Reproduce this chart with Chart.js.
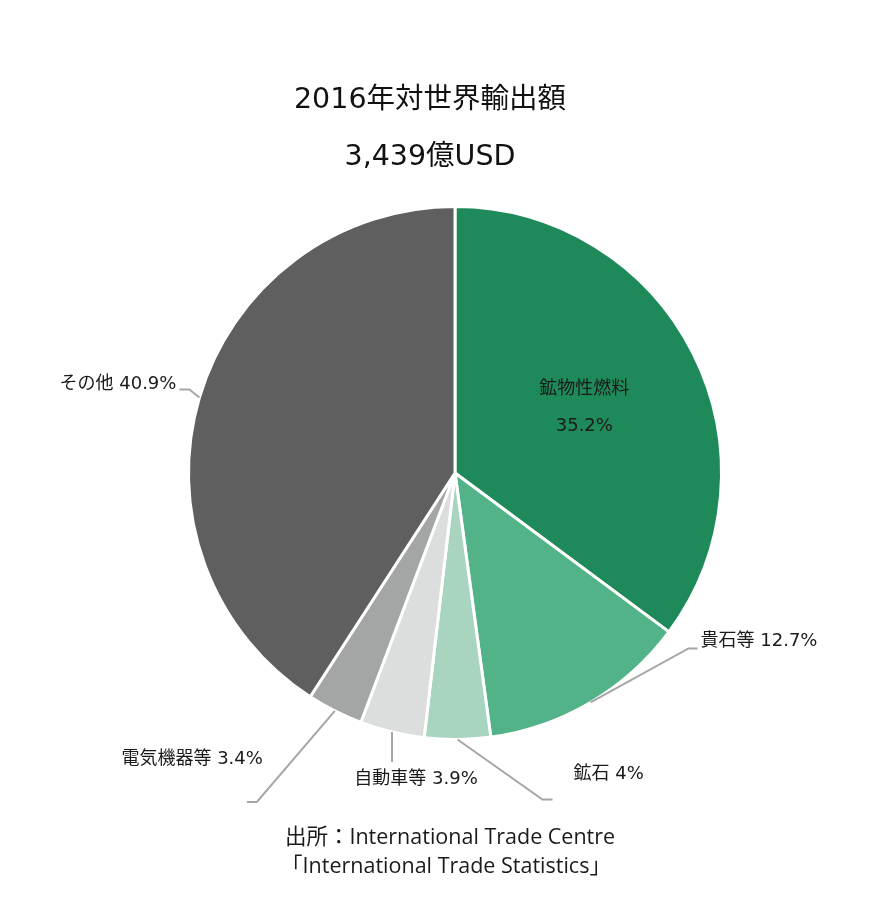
<!DOCTYPE html>
<html>
<head>
<meta charset="utf-8">
<script src="https://cdn.jsdelivr.net/npm/chart.js@4/dist/chart.umd.min.js"></script>
<style>
html,body{margin:0;padding:0;background:#fff;}
#wrap{width:894px;height:901px;position:relative;}
</style>
</head>
<body>
<div id="wrap"><canvas id="c" width="894" height="901"></canvas></div>
<script>
// ---- data ----
const categories = ['鉱物性燃料', '貴石等', '鉱石', '自動車等', '電気機器等', 'その他'];
const shares = [35.2, 12.7, 4, 3.9, 3.4, 40.9];
const sliceColors = ['#1f8a59', '#52b288', '#a9d4bf', '#dcdedd', '#a3a6a5', '#5f5f5f'];
const titleLines = ['2016年対世界輸出額', '3,439億USD'];
const sourceLines = ['出所：International Trade Centre', '「International Trade Statistics」'];

// ---- label layout (offsets from slice anchor on the rim, px) ----
const labelLayout = [
  { inside: true },
  { elbow: [98, -54], tail: 9, text: [110, -61], align: 'left' },
  { elbow: [85, 60], tail: 10, text: [116, 35], align: 'left' },
  { elbow: [0, 30], tail: 0, text: [24, 47], align: 'center' },
  { elbow: [-78, 91], tail: -10, text: [-72, 48], align: 'right' },
  { elbow: [-10, -8], tail: -10, text: [-23, -13], align: 'right' }
];

const FONT = '"DejaVu Sans", "Noto Sans CJK JP", sans-serif';
const SRC_FONT = '"Open Sans", "Noto Sans CJK JP", sans-serif';

const labelPlugin = {
  id: 'pieLabels',
  afterDatasetsDraw(chart) {
    const ctx = chart.ctx;
    const meta = chart.getDatasetMeta(0);
    ctx.save();
    meta.data.forEach((arc, i) => {
      const p = arc.getProps(['x', 'y', 'startAngle', 'endAngle', 'outerRadius'], true);
      const mid = (p.startAngle + p.endAngle) / 2;
      const lay = labelLayout[i];
      const txt = categories[i] + ' ' + shares[i] + '%';
      if (lay.inside) {
        const rr = p.outerRadius * 0.56;
        const cx = p.x + Math.cos(mid) * rr;
        const cy = p.y + Math.sin(mid) * rr;
        ctx.fillStyle = '#1a1a1a';
        ctx.font = '18px ' + FONT;
        ctx.textAlign = 'center';
        ctx.textBaseline = 'middle';
        ctx.fillText(categories[i], cx - 4, cy - 17);
        ctx.fillText(shares[i] + '%', cx - 4, cy + 20);
        return;
      }
      const ax = p.x + Math.cos(mid) * p.outerRadius;
      const ay = p.y + Math.sin(mid) * p.outerRadius;
      const ex = ax + lay.elbow[0], ey = ay + lay.elbow[1];
      ctx.strokeStyle = '#a6a6a6';
      ctx.lineWidth = 2;
      ctx.beginPath();
      ctx.moveTo(ax, ay);
      ctx.lineTo(ex, ey);
      if (lay.tail) ctx.lineTo(ex + lay.tail, ey);
      ctx.stroke();
      ctx.fillStyle = '#1a1a1a';
      ctx.font = '18px ' + FONT;
      ctx.textAlign = lay.align;
      ctx.textBaseline = 'middle';
      ctx.fillText(txt, ax + lay.text[0], ay + lay.text[1]);
    });
    // titles
    ctx.fillStyle = '#111';
    ctx.textAlign = 'center';
    ctx.textBaseline = 'middle';
    ctx.font = '28.5px ' + FONT;
    ctx.fillText(titleLines[0], 430, 101);
    ctx.fillText(titleLines[1], 430, 158);
    // source
    ctx.font = '21.5px ' + SRC_FONT;
    ctx.fillStyle = '#1a1a1a';
    ctx.fillText(sourceLines[0], 450, 838);
    ctx.fillText(sourceLines[1], 446, 867);
    ctx.restore();
  }
};

new Chart(document.getElementById('c'), {
  type: 'pie',
  data: {
    labels: categories,
    datasets: [{
      data: shares,
      backgroundColor: sliceColors,
      borderColor: '#ffffff',
      borderWidth: 3
    }]
  },
  options: {
    responsive: false,
    animation: false,
    layout: { padding: { top: 205, bottom: 160, left: 16, right: 0 } },
    plugins: {
      legend: { display: false },
      tooltip: { enabled: false },
      title: { display: false }
    }
  },
  plugins: [labelPlugin]
});
</script>
</body>
</html>
